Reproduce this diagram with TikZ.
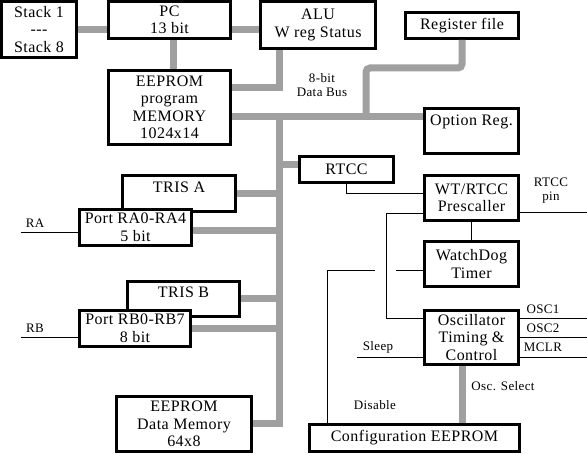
\documentclass[tikz,border=0pt]{standalone}
\usepackage{fontspec}
\setmainfont{Liberation Serif}[LetterSpace=3]
\definecolor{busgray}{RGB}{160,160,160}

\begin{document}
\begin{tikzpicture}[
    x=1pt, y=-1pt,
    blk/.style={rectangle, draw, line width=3pt, fill=white, align=center,
                inner sep=2pt, font=\fontsize{16}{17.5}\selectfont},
    bus/.style={draw=busgray, line width=7pt},
    wire/.style={draw, line width=0.8pt},
    lbl/.style={font=\fontsize{13}{14}\selectfont, align=center},
  ]
  \useasboundingbox (0,0) rectangle (587,454);

  % ===== Top row =====
  \node[blk, minimum width=75pt, minimum height=56pt] (stack) at (39,29.5) {Stack 1\\-{}-{}-\\Stack 8};
  \node[blk, minimum width=122pt, minimum height=37pt] (pc) at (169.5,20) {PC\\13 bit};
  \node[blk, minimum width=115pt, minimum height=47pt] (alu) at (318,25) {ALU\\W reg Status};
  \node[blk, minimum width=113pt, minimum height=26pt] (regfile) at (462,25.5) {Register file};

  % ===== Program memory, registers =====
  \node[blk, minimum width=122pt, minimum height=74pt] (prog) at (169.5,107.5) {EEPROM\\program\\MEMORY\\1024x14};
  \node[blk, minimum width=94pt, minimum height=45pt,
        text height=11pt, text depth=22pt] (optreg) at (471.5,131) {Option Reg.};
  \node[blk, minimum width=94pt, minimum height=26pt] (rtcc) at (346.5,169.5) {RTCC};

  % ===== I/O ports (port box lies over its TRIS box) =====
  \node[blk, minimum width=113pt, minimum height=36pt,
        text height=11pt, text depth=12pt] (trisa) at (179,193.5) {TRIS A};
  \node[blk, minimum width=112pt, minimum height=36pt] (porta) at (135.5,227.5) {Port RA0-RA4\\5 bit};
  \node[blk, minimum width=112pt, minimum height=35pt,
        text height=11pt, text depth=14pt] (trisb) at (183.5,299) {TRIS B};
  \node[blk, minimum width=111pt, minimum height=36pt] (portb) at (135,328.5) {Port RB0-RB7\\8 bit};
  \node[blk, minimum width=135pt, minimum height=55pt] (datamem) at (184,424) {EEPROM\\Data Memory\\64x8};

  % ===== Timer / clock column =====
  \node[blk, minimum width=94pt, minimum height=45pt] (prescaler) at (471.5,198) {WT/RTCC\\Prescaller};
  \node[blk, minimum width=94pt, minimum height=45pt] (wdt) at (471.5,264) {WatchDog\\Timer};
  \node[blk, minimum width=94pt, minimum height=54pt] (osc) at (471.5,337.5) {Oscillator\\Timing \&\\Control};
  \node[blk, minimum width=210pt, minimum height=27pt] (config) at (414.5,438) {Configuration EEPROM};

  % ===== Data bus =====
  \coordinate (bustop) at (279,117);
  \coordinate (busbot) at (279,424);
  \coordinate (regbr) at (366,68);

  \draw[bus] (stack.east) -- (stack.east -| pc.west);
  \draw[bus] (stack.east -| pc.east) -- (stack.east -| alu.west);
  \draw[bus] ([xshift=4pt]pc.south) -- ([xshift=4pt]pc.south |- prog.north);
  \draw[bus] ([yshift=19.5pt]prog.east) -| (alu.south -| bustop);
  \draw[bus] ([yshift=-9.5pt]prog.east) -- (bustop) -- ([yshift=14pt]optreg.west);
  \draw[bus, rounded corners=4pt] (regfile.south) |- (regbr) -- (regbr |- bustop);
  \draw[bus] (bustop) -- (busbot) -- (datamem.east);
  \draw[bus] ([yshift=4.5pt]rtcc.west) -- ([yshift=4.5pt]rtcc.west -| bustop);
  \draw[bus] (trisa.east) -- (trisa.east -| bustop);
  \draw[bus] ([yshift=-3.5pt]porta.east) -- ([yshift=-3.5pt]porta.east -| bustop);
  \draw[bus] (trisb.east) -- (trisb.east -| bustop);
  \draw[bus] (portb.east) -- (portb.east -| bustop);
  \draw[bus] ([xshift=-9.5pt]osc.south) -- ([xshift=-9.5pt]osc.south |- config.north);

  \node[lbl] (buslbl) at (322,85) {8-bit\\Data Bus};

  % ===== Control wires =====
  \coordinate (edge) at (587,0);
  \coordinate (clk) at (386,318);
  \coordinate (dis) at (327,270);
  \coordinate (hop) at (386,270);
  \coordinate (sleep) at (357,357);
  \coordinate (ra) at (21,232);
  \coordinate (rb) at (21,337);

  \draw[wire] (rtcc.south) |- ([yshift=5pt]prescaler.west);
  \draw[wire] ([yshift=-14pt]prescaler.east) -- ([yshift=-14pt]prescaler.east -| edge);
  \draw[wire] ([yshift=-15pt]prescaler.west) -| (clk) -- (clk -| osc.west);
  \draw[wire] (prescaler) -- (wdt);
  \draw[wire] (dis |- config.north) -- (dis) -- ([xshift=-11pt]hop);
  \draw[wire] ([xshift=10pt]hop) -- (hop -| wdt.west);
  \draw[wire] ([yshift=19.5pt]osc.east) -- ([yshift=19.5pt]osc.east -| edge);
  \draw[wire] (osc.east) -- (osc.east -| edge);
  \draw[wire] ([yshift=-19.5pt]osc.east) -- ([yshift=-19.5pt]osc.east -| edge);
  \draw[wire] (sleep) -- (sleep -| osc.west);
  \draw[wire] (ra) -- (ra -| porta.west);
  \draw[wire] (rb) -- (rb -| portb.west);

  % pin and signal labels
  \node[lbl] (pinlbl) at (551,191) {RTCC\\pin};
  \node[lbl] (osc1) at (543,309) {OSC1};
  \node[lbl] (osc2) at (543,328) {OSC2};
  \node[lbl] (mclr) at (543,347) {MCLR};
  \node[lbl] (sleeplbl) at (378,347) {Sleep};
  \node[lbl] (dislbl) at (375,405) {Disable};
  \node[lbl] (sellbl) at (503,386) {Osc. Select};
  \node[lbl] (ralbl) at (35,223) {RA};
  \node[lbl] (rblbl) at (35,328) {RB};

\end{tikzpicture}
\end{document}
